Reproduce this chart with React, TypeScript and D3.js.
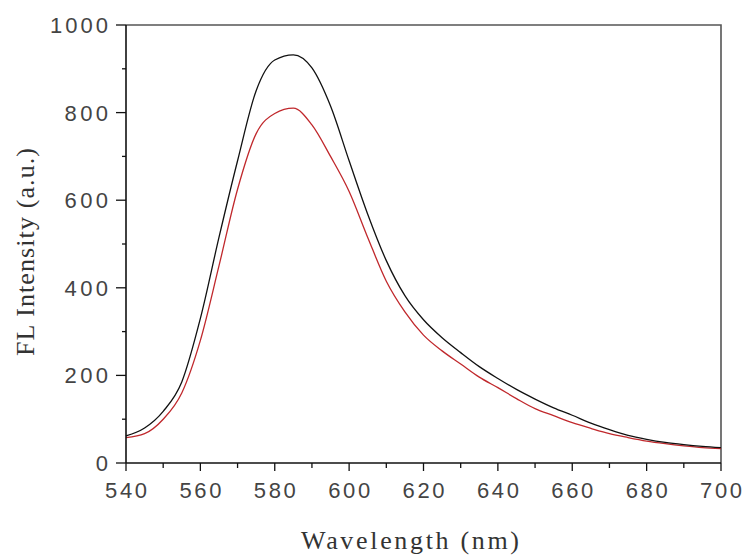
import React, { useEffect, useRef } from 'react'
import * as d3 from 'd3'

const wavelengths = [
  540, 545, 550, 555, 560, 565, 570, 575, 580, 585, 590, 595, 600, 605, 610, 615, 620,
  625, 630, 635, 640, 645, 650, 655, 660, 665, 670, 675, 680, 685, 690, 695, 700,
]
const blackSeries = [
  62, 80, 118, 185, 330, 515, 690, 850, 920, 932, 902, 815, 690, 568, 462, 382, 327,
  286, 252, 220, 193, 168, 146, 126, 109, 91, 76, 63, 54, 47, 42, 38, 35,
]
const redSeries = [
  58, 67, 100, 160, 280, 450, 625, 752, 798, 810, 772, 700, 620, 515, 415, 345, 292,
  256, 226, 196, 172, 147, 124, 108, 92, 79, 67, 58, 50, 44, 39, 35, 33,
]
const xTicks = [540, 560, 580, 600, 620, 640, 660, 680, 700]
const yTicks = [0, 200, 400, 600, 800, 1000]

const W = 747
const H = 560
const margin = { left: 126, right: 26, top: 25, bottom: 97 }

export default function App() {
  const ref = useRef<SVGSVGElement>(null)

  useEffect(() => {
    const svg = d3.select(ref.current)
    svg.selectAll('*').remove()

    const x = d3.scaleLinear().domain([540, 700]).range([margin.left, W - margin.right])
    const y = d3.scaleLinear().domain([0, 1000]).range([H - margin.bottom, margin.top])
    const x0 = x(540), x1 = x(700), y0 = y(0), y1 = y(1000)

    // frame (top / right)
    svg.append('path')
      .attr('d', `M${x0},${y1}H${x1}V${y0}`)
      .attr('fill', 'none').attr('stroke', '#555').attr('stroke-width', 1.6)

    // curves
    const line = (vals: number[]) =>
      d3.line<number>()
        .x((_, i) => x(wavelengths[i]))
        .y(d => y(d))
        .curve(d3.curveMonotoneX)(vals)

    svg.append('path').attr('d', line(redSeries))
      .attr('fill', 'none').attr('stroke', '#c0282c').attr('stroke-width', 1.3)
    svg.append('path').attr('d', line(blackSeries))
      .attr('fill', 'none').attr('stroke', '#111').attr('stroke-width', 1.3)

    // axes lines
    svg.append('line').attr('x1', x0).attr('x2', x0).attr('y1', y1).attr('y2', y0)
      .attr('stroke', '#111').attr('stroke-width', 1.6)
    svg.append('line').attr('x1', x0).attr('x2', x1).attr('y1', y0).attr('y2', y0)
      .attr('stroke', '#111').attr('stroke-width', 1.6)

    // x ticks
    d3.range(540, 701, 10).forEach(v => {
      const major = v % 20 === 0
      svg.append('line').attr('x1', x(v)).attr('x2', x(v))
        .attr('y1', y0).attr('y2', y0 + (major ? 8 : 5))
        .attr('stroke', '#111').attr('stroke-width', 1.3)
    })
    xTicks.forEach(v => {
      svg.append('text').attr('x', x(v)).attr('y', y0 + 35)
        .attr('text-anchor', 'middle')
        .attr('textLength', 42).attr('lengthAdjust', 'spacing')
        .attr('font-family', 'Liberation Sans, Arial, sans-serif')
        .attr('font-size', 22).attr('fill', '#444')
        .text(String(v))
    })

    // y ticks
    d3.range(0, 1001, 100).forEach(v => {
      const major = v % 200 === 0
      svg.append('line').attr('x1', x0 - (major ? 10 : 4)).attr('x2', x0)
        .attr('y1', y(v)).attr('y2', y(v))
        .attr('stroke', '#111').attr('stroke-width', 1.3)
    })
    yTicks.forEach(v => {
      const s = String(v)
      svg.append('text').attr('x', x0 - 18).attr('y', y(v) + 8)
        .attr('text-anchor', 'end')
        .attr('textLength', s.length === 1 ? 12 : s.length * 14.5)
        .attr('lengthAdjust', 'spacing')
        .attr('font-family', 'Liberation Sans, Arial, sans-serif')
        .attr('font-size', 22).attr('fill', '#444')
        .text(s)
    })

    // axis titles
    svg.append('text').attr('x', 410).attr('y', 549)
      .attr('text-anchor', 'middle')
      .attr('textLength', 218).attr('lengthAdjust', 'spacing')
      .attr('font-family', 'Liberation Serif, Times New Roman, serif')
      .attr('font-size', 26).attr('fill', '#333')
      .text('Wavelength (nm)')
    svg.append('text')
      .attr('transform', 'translate(34,252) rotate(-90)')
      .attr('text-anchor', 'middle')
      .attr('textLength', 208).attr('lengthAdjust', 'spacing')
      .attr('font-family', 'Liberation Serif, Times New Roman, serif')
      .attr('font-size', 26).attr('fill', '#333')
      .text('FL Intensity (a.u.)')
  }, [])

  return (
    <svg
      ref={ref}
      width={W}
      height={H}
      style={{ position: 'absolute', left: 0, top: 0, background: '#fff' }}
    />
  )
}
